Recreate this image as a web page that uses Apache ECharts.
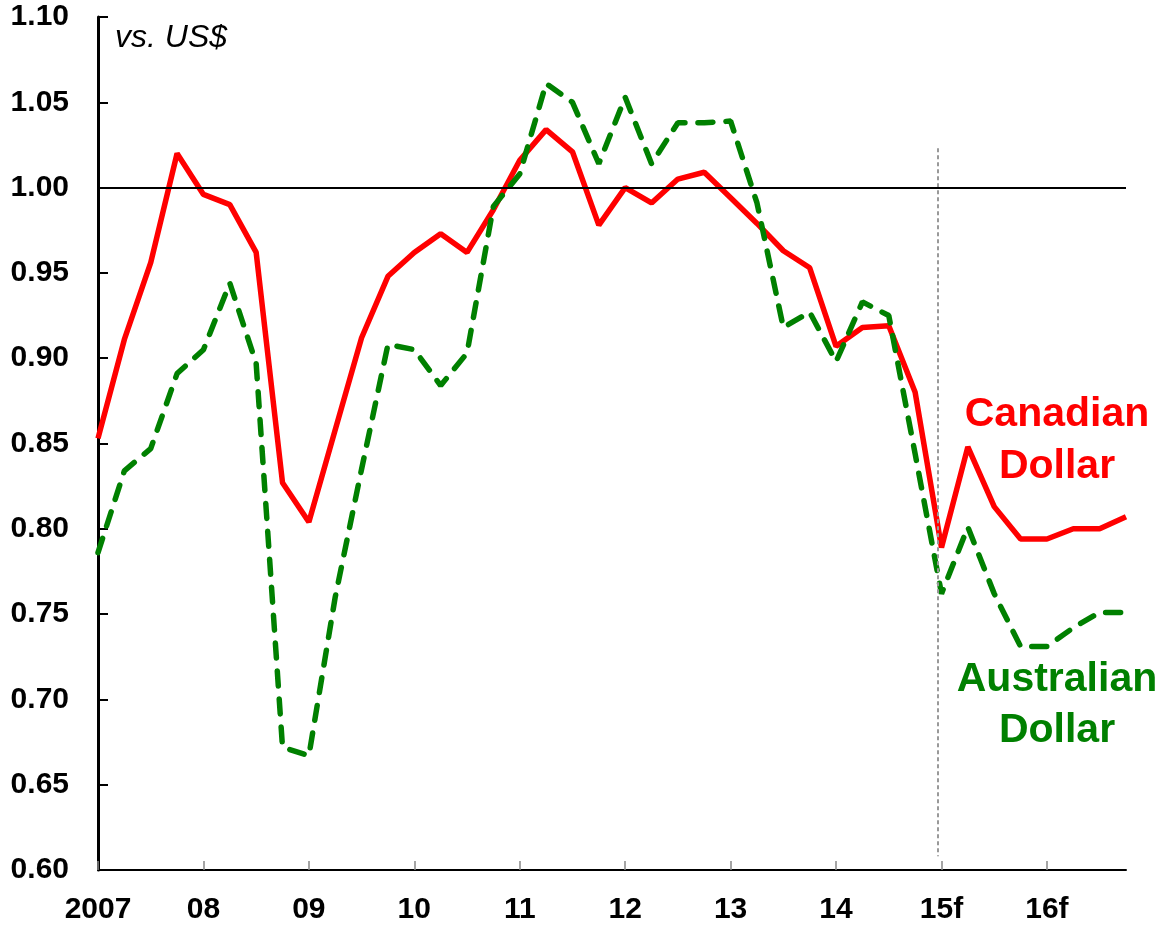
<!DOCTYPE html>
<html>
<head>
<meta charset="utf-8">
<script src="https://cdn.jsdelivr.net/npm/echarts@6/dist/echarts.min.js"></script>
<style>
html, body { margin: 0; padding: 0; background: #fff; }
#main { width: 1163px; height: 925px; }
</style>
</head>
<body>
<div id="main"></div>
<script>
// quarterly, 2007 Q1 .. 2016 Q4
var quarters = [
	'07Q1','07Q2','07Q3','07Q4','08Q1','08Q2','08Q3','08Q4',
	'09Q1','09Q2','09Q3','09Q4','10Q1','10Q2','10Q3','10Q4',
	'11Q1','11Q2','11Q3','11Q4','12Q1','12Q2','12Q3','12Q4',
	'13Q1','13Q2','13Q3','13Q4','14Q1','14Q2','14Q3','14Q4',
	'15Q1','15Q2','15Q3','15Q4','16Q1','16Q2','16Q3','16Q4'
];
var yearLabels = ['2007', '08', '09', '10', '11', '12', '13', '14', '15f', '16f'];

var cad = [0.853, 0.911, 0.956, 1.020, 0.996, 0.990, 0.962, 0.827,
	0.804, 0.858, 0.912, 0.948, 0.962, 0.973, 0.962, 0.987,
	1.016, 1.034, 1.021, 0.978, 1.000, 0.991, 1.005, 1.009,
	0.994, 0.979, 0.963, 0.953, 0.907, 0.918, 0.919, 0.880,
	0.789, 0.848, 0.813, 0.794, 0.794, 0.800, 0.800, 0.807];
var aud = [0.786, 0.834, 0.847, 0.891, 0.905, 0.944, 0.897, 0.672,
	0.667, 0.760, 0.835, 0.908, 0.905, 0.884, 0.903, 0.989,
	1.008, 1.061, 1.050, 1.014, 1.053, 1.014, 1.038, 1.038,
	1.039, 0.991, 0.918, 0.927, 0.898, 0.933, 0.925, 0.844,
	0.762, 0.801, 0.762, 0.731, 0.731, 0.742, 0.751, 0.751];

var forecastStart = 31.85; // dotted divider, just before 15f
var font = "'Liberation Sans', Arial, sans-serif";

var myChart = echarts.init(document.getElementById('main'));
var option = {
	animation: false,
	backgroundColor: '#fff',
	grid: { left: 98, right: 37, top: 17, bottom: 55 },
	xAxis: [{
		type: 'category',
		data: quarters,
		boundaryGap: false,
		axisLine: { lineStyle: { color: '#000', width: 2 } },
		axisTick: {
			inside: true, length: 9,
			interval: function (i) { return i % 4 === 0; },
			lineStyle: { color: '#888', width: 1.5 }
		},
		axisLabel: {
			interval: function (i) { return i % 4 === 0; },
			formatter: function (v, i) { return yearLabels[i / 4]; },
			color: '#000', fontWeight: 'bold', fontSize: 30, fontFamily: font,
			margin: 25
		},
		splitLine: { show: false }
	}, {
		type: 'value', min: 0, max: quarters.length - 1, show: false
	}],
	yAxis: {
		type: 'value',
		min: 0.6, max: 1.1, interval: 0.05,
		axisLine: { show: true, lineStyle: { color: '#000', width: 3 } },
		axisTick: { show: true, inside: true, length: 10, lineStyle: { color: '#000', width: 2 } },
		axisLabel: {
			formatter: function (v) { return v.toFixed(2); },
			color: '#000', fontWeight: 'bold', fontSize: 30, fontFamily: font,
			margin: 29
		},
		splitLine: { show: false }
	},
	graphic: [
		{ type: 'text', left: 115, top: 22, style: { text: 'vs. US$', font: 'italic 32px ' + font, fill: '#000' } },
		{ type: 'text', x: 1057, y: 415, style: { text: 'Canadian', font: 'bold 41px ' + font, fill: '#ff0000', align: 'center', verticalAlign: 'middle' } },
		{ type: 'text', x: 1057, y: 467, style: { text: 'Dollar', font: 'bold 41px ' + font, fill: '#ff0000', align: 'center', verticalAlign: 'middle' } },
		{ type: 'text', x: 1057, y: 680, style: { text: 'Australian', font: 'bold 41px ' + font, fill: '#008000', align: 'center', verticalAlign: 'middle' } },
		{ type: 'text', x: 1057, y: 731, style: { text: 'Dollar', font: 'bold 41px ' + font, fill: '#008000', align: 'center', verticalAlign: 'middle' } }
	],
	series: [{
		name: 'Divider',
		type: 'line',
		xAxisIndex: 1,
		data: [],
		silent: true,
		markLine: {
			symbol: 'none', silent: true, label: { show: false },
			lineStyle: { color: '#999', width: 2, type: [4, 3] },
			data: [[{ coord: [forecastStart, 1.023] }, { coord: [forecastStart, 0.608] }]]
		}
	}, {
		name: 'Australian Dollar',
		type: 'line',
		data: aud,
		showSymbol: false,
		lineStyle: { color: '#008000', width: 5.5, type: [15, 13], cap: 'round' },
		z: 3
	}, {
		name: 'Canadian Dollar',
		type: 'line',
		data: cad,
		showSymbol: false,
		lineStyle: { color: '#ff0000', width: 5.5 },
		z: 2,
		markLine: {
			symbol: 'none', silent: true, label: { show: false },
			lineStyle: { color: '#000', width: 2, type: 'solid' },
			data: [{ yAxis: 1.0 }]
		}
	}]
};
myChart.setOption(option);
</script>
</body>
</html>
